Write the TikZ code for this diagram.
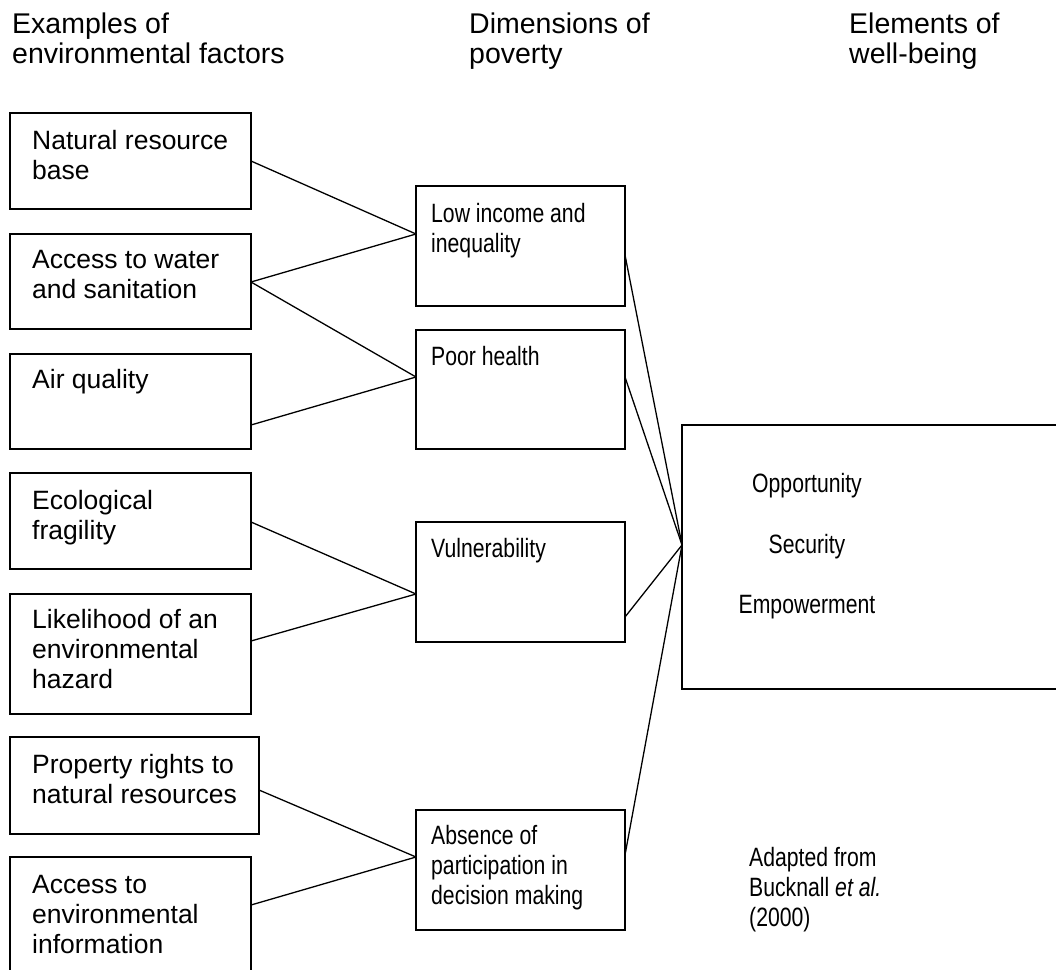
\documentclass[tikz,border=0pt]{standalone}
\usepackage{fontspec}
\setmainfont{Liberation Sans}
\newfontfamily\narrowfont[FakeStretch=0.8]{Liberation Sans}
\newcommand{\mylines}[1]{\begin{tabular}[t]{@{}l@{}}#1\end{tabular}}
\begin{document}
\begin{tikzpicture}[x=1pt,y=-1pt,
  box/.style={draw, line width=1.4pt, inner sep=0pt, outer sep=0pt, anchor=north west},
  lefttxt/.style={inner sep=0pt, anchor=base west, font=\fontsize{26.5}{30}\selectfont},
  midtxt/.style={inner sep=0pt, anchor=base west, font=\narrowfont\fontsize{26.5}{30}\selectfont},
  righttxt/.style={inner sep=0pt, anchor=base, font=\narrowfont\fontsize{26.5}{30}\selectfont},
  headtxt/.style={inner sep=0pt, anchor=base west, font=\fontsize{28.5}{30}\selectfont},
  conn/.style={line width=1.3pt}]
\clip (0,0) rectangle (1056,969);
\fill[white] (0,0) rectangle (1056,969);
% headers
\node[headtxt] (h1) at (12,33) {\mylines{Examples of\\environmental factors}};
\node[headtxt] (h2) at (469,33) {\mylines{Dimensions of\\poverty}};
\node[headtxt] (h3) at (849,33) {\mylines{Elements of\\well-being}};
% left boxes
\node[box, minimum width=241pt, minimum height=96pt] (l1) at (10,113) {};
\node[box, minimum width=241pt, minimum height=95pt] (l2) at (10,234) {};
\node[box, minimum width=241pt, minimum height=95pt] (l3) at (10,354) {};
\node[box, minimum width=241pt, minimum height=96pt] (l4) at (10,473) {};
\node[box, minimum width=241pt, minimum height=120pt] (l5) at (10,594) {};
\node[box, minimum width=249pt, minimum height=97pt] (l6) at (10,737) {};
\node[box, minimum width=241pt, minimum height=200pt] (l7) at (10,857) {};
\node[lefttxt] (t1) at (32,149) {\mylines{Natural resource\\base}};
\node[lefttxt] (t2) at (32,268) {\mylines{Access to water\\and sanitation}};
\node[lefttxt] (t3) at (32,388) {Air quality};
\node[lefttxt] (t4) at (32,509) {\mylines{Ecological\\fragility}};
\node[lefttxt] (t5) at (32,628) {\mylines{Likelihood of an\\environmental\\hazard}};
\node[lefttxt] (t6) at (32,773) {\mylines{Property rights to\\natural resources}};
\node[lefttxt] (t7) at (32,893) {\mylines{Access to\\environmental\\information}};
% middle boxes
\node[box, minimum width=209pt, minimum height=120pt] (m1) at (416,186) {};
\node[box, minimum width=209pt, minimum height=119pt] (m2) at (416,330) {};
\node[box, minimum width=209pt, minimum height=120pt] (m3) at (416,522) {};
\node[box, minimum width=209pt, minimum height=120pt] (m4) at (416,810) {};
\node[midtxt] (u1) at (431,222) {\mylines{Low income and\\inequality}};
\node[midtxt] (u2) at (431,365) {Poor health};
\node[midtxt] (u3) at (431,557) {Vulnerability};
\node[midtxt] (u4) at (431,844) {\mylines{Absence of\\participation in\\decision making}};
% right box
\node[box, minimum width=400pt, minimum height=264pt] (r) at (682,425) {};
\node[righttxt] (w1) at (807,492) {Opportunity};
\node[righttxt] (w2) at (807,553) {Security};
\node[righttxt] (w3) at (807,613) {Empowerment};
\node[midtxt] (src) at (749,866) {\mylines{Adapted from\\Bucknall \textit{et al.}\\(2000)}};
% connection points
\coordinate (m1in) at (m1.west |- 0,234);
\coordinate (m2in) at (m2.west |- 0,377);
\coordinate (m3in) at (m3.west |- 0,594);
\coordinate (m4in) at (m4.west |- 0,857);
\coordinate (hub) at (r.west |- 0,545);
% connectors
\draw[conn] (l1.east) -- (m1in);
\draw[conn] (l2.east |- 0,282) -- (m1in);
\draw[conn] (l2.east |- 0,282) -- (m2in);
\draw[conn] (l3.east |- 0,425) -- (m2in);
\draw[conn] (l4.east |- 0,522) -- (m3in);
\draw[conn] (l5.east |- 0,641) -- (m3in);
\draw[conn] (l6.east |- 0,790) -- (m4in);
\draw[conn] (l7.east |- 0,905) -- (m4in);
\draw[conn] (m1.east |- 0,255) -- (hub);
\draw[conn] (m2.east |- 0,377) -- (hub);
\draw[conn] (m3.east |- 0,617) -- (hub);
\draw[conn] (m4.east |- 0,855) -- (hub);
\end{tikzpicture}
\end{document}
